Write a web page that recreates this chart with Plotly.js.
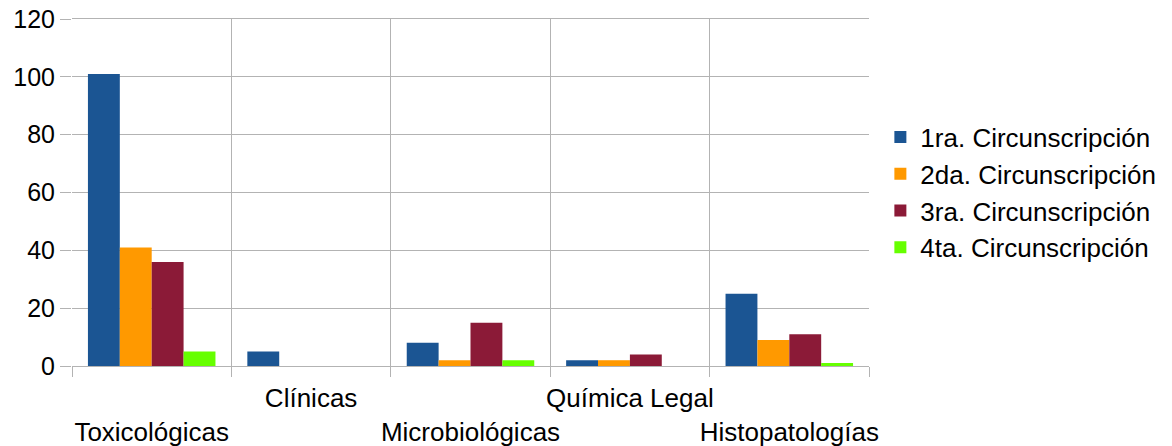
<!DOCTYPE html>
<html>
<head>
<meta charset="utf-8">
<script src="https://cdn.plot.ly/plotly-3.0.1.min.js"></script>
<style>html,body{margin:0;padding:0;background:#fff;}#chart{width:1172px;height:446px;}</style>
</head>
<body>
<div id="chart"></div>
<script>
var categories = ["Toxicológicas", "Clínicas", "Microbiológicas", "Química Legal", "Histopatologías"];
var seriesNames = ["1ra. Circunscripción", "2da. Circunscripción", "3ra. Circunscripción", "4ta. Circunscripción"];
var serie1 = [101, 5, 8, 2, 25];
var serie2 = [41, 0, 2, 2, 9];
var serie3 = [36, 0, 15, 4, 11];
var serie4 = [5, 0, 2, 0, 1];
var yTicks = [0, 20, 40, 60, 80, 100, 120];
var colors = ["#1b5593", "#ff9900", "#8b1a37", "#66ff00"];

var allSeries = [serie1, serie2, serie3, serie4];
var traces = allSeries.map(function (vals, i) {
  return {
    type: "bar",
    x: categories,
    y: vals,
    name: seriesNames[i],
    legendgroup: "g" + i,
    marker: { color: colors[i], line: { width: 0 } },
    hoverinfo: "x+y+name"
  };
});

// staggered tick labels: odd positions on the upper row, even on the lower row
var tickText = categories.map(function (c, i) { return i % 2 === 0 ? "<br>" + c : c; });

var grid = "#b3b3b3";
var layout = {
  width: 1172,
  height: 446,
  margin: { l: 72, r: 302, t: 19, b: 80 },
  paper_bgcolor: "#ffffff",
  plot_bgcolor: "#ffffff",
  font: { family: "Liberation Sans, Arial, sans-serif", size: 24, color: "#000000" },
  barmode: "group",
  bargap: 0.2,
  bargroupgap: 0,
  showlegend: true,
  legend: {
    x: 1.013, xanchor: "left",
    y: 0.5, yanchor: "middle",
    traceorder: "grouped",
    tracegroupgap: 0,
    font: { family: "Liberation Sans, Arial, sans-serif", size: 26, color: "#000000" },
    bgcolor: "rgba(0,0,0,0)",
    borderwidth: 0
  },
  xaxis: {
    type: "category",
    tickson: "boundaries",
    tickvals: categories,
    ticktext: tickText,
    ticks: "outside",
    ticklen: 10,
    tickwidth: 1,
    tickcolor: grid,
    ticklabelstandoff: 9,
    showgrid: true,
    gridcolor: grid,
    gridwidth: 1,
    showline: true,
    linecolor: grid,
    linewidth: 1,
    mirror: true,
    zeroline: false,
    tickangle: 0,
    automargin: false,
    tickfont: { size: 26 }
  },
  yaxis: {
    range: [0, 120],
    tickvals: yTicks,
    ticktext: yTicks.map(String),
    ticks: "outside",
    ticklen: 11,
    tickwidth: 1,
    tickcolor: grid,
    showgrid: true,
    gridcolor: grid,
    gridwidth: 1,
    zeroline: false,
    showline: false,
    automargin: false,
    tickfont: { size: 25 }
  }
};

Plotly.newPlot("chart", traces, layout, { displayModeBar: false, staticPlot: true });
</script>
</body>
</html>
